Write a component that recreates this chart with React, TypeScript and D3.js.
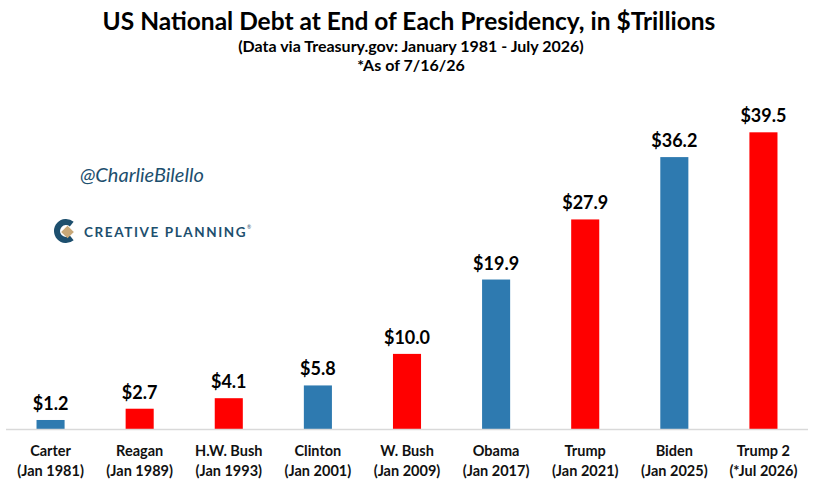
import * as d3 from 'd3';

const presidents = ['Carter', 'Reagan', 'H.W. Bush', 'Clinton', 'W. Bush', 'Obama', 'Trump', 'Biden', 'Trump 2'];
const endDates = ['(Jan 1981)', '(Jan 1989)', '(Jan 1993)', '(Jan 2001)', '(Jan 2009)', '(Jan 2017)', '(Jan 2021)', '(Jan 2025)', '(*Jul 2026)'];
const debt = [1.2, 2.7, 4.1, 5.8, 10.0, 19.9, 27.9, 36.2, 39.5];
const party = ['D', 'R', 'R', 'D', 'R', 'D', 'R', 'D', 'R'];

const W = 822;
const H = 490;
const FONT = 'Lato, "Open Sans", sans-serif';
const BLUE = '#2e7ab0';
const RED = '#ff0000';
const TEAL = '#1d4f6e';

export default function App() {
  const x = d3.scaleBand<string>()
    .domain(presidents)
    .range([6, 808])
    .paddingInner(0.685)
    .paddingOuter(0.3425);

  const y = d3.scaleLinear().domain([0, 45]).range([429, 91]);

  // C-shaped logo mark, opening to the right
  const ring = d3.arc()({
    innerRadius: 6,
    outerRadius: 12,
    startAngle: Math.PI * 0.78,
    endAngle: Math.PI * 2.22,
  }) || '';

  return (
    <div style={{ position: 'fixed', left: 0, top: 0 }}>
      <svg width={W} height={H} style={{ display: 'block', background: '#fff' }}>
        <text x={409} y={30} textAnchor="middle" fontFamily={FONT} fontWeight={700} fontSize={24.5} fill="#000">
          US National Debt at End of Each Presidency, in $Trillions
        </text>
        <text x={411} y={52} textAnchor="middle" fontFamily={FONT} fontWeight={700} fontSize={16} fill="#000">
          (Data via Treasury.gov: January 1981 - July 2026)
        </text>
        <text x={411} y={71} textAnchor="middle" fontFamily={FONT} fontWeight={700} fontSize={16} fill="#000">
          *As of 7/16/26
        </text>

        <text x={80} y={182} fontFamily={FONT} fontStyle="italic" fontSize={20} fill={TEAL}>
          @CharlieBilello
        </text>

        <g transform="translate(66,231)">
          <path d={ring} fill={TEAL} />
          <rect x={-4.5} y={-4.5} width={9} height={9} transform="translate(1.5,1) rotate(45)" fill="#c8a878" />
        </g>
        <text x={84} y={237} fontFamily={FONT} fontWeight={700} fontSize={13.5} letterSpacing={1.6} fill={TEAL}>
          CREATIVE PLANNING
        </text>
        <text x={247} y={229} fontFamily={FONT} fontSize={5} fill={TEAL}>®</text>

        {presidents.map((p, i) => {
          const bx = x(p) || 0;
          const cx = bx + x.bandwidth() / 2;
          return (
            <g key={p}>
              <rect
                x={bx}
                y={y(debt[i])}
                width={x.bandwidth()}
                height={y(0) - y(debt[i])}
                fill={party[i] === 'D' ? BLUE : RED}
              />
              <text x={cx} y={y(debt[i]) - 10} textAnchor="middle" fontFamily={FONT} fontWeight={700} fontSize={18} fill="#000">
                {'$' + debt[i].toFixed(1)}
              </text>
              <text x={cx} y={456} textAnchor="middle" fontFamily={FONT} fontWeight={700} fontSize={14.5} fill="#111">
                {p}
              </text>
              <text x={cx} y={476} textAnchor="middle" fontFamily={FONT} fontWeight={700} fontSize={14.5} fill="#111">
                {endDates[i]}
              </text>
            </g>
          );
        })}

        <line x1={6} x2={808} y1={y(0) + 0.5} y2={y(0) + 0.5} stroke="#d9d9d9" strokeWidth={1.5} />
      </svg>
    </div>
  );
}
